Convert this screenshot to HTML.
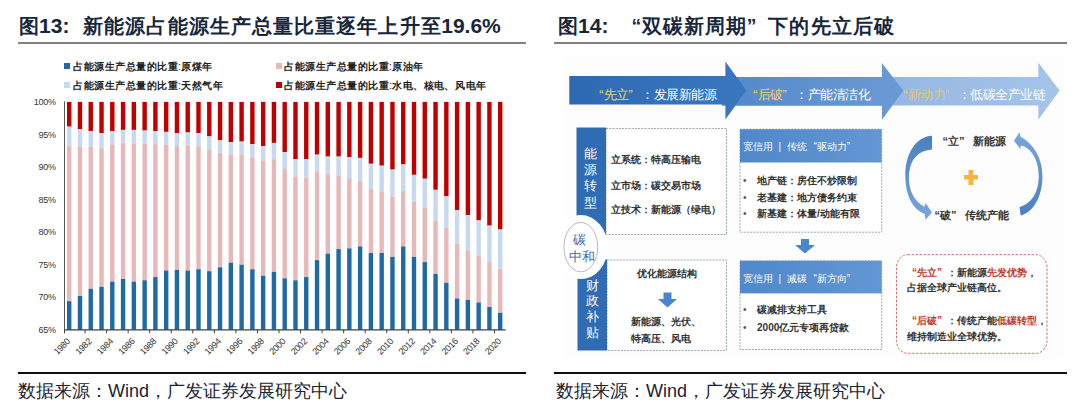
<!DOCTYPE html>
<html><head><meta charset="utf-8">
<style>
*{margin:0;padding:0;box-sizing:border-box}
html,body{width:1080px;height:414px;overflow:hidden;background:#fff}
body{position:relative;font-family:"Liberation Sans",sans-serif;color:#222}
.abs{position:absolute;white-space:nowrap}
.title{font-size:21px;color:#17263b;top:14px;line-height:24px}
.title b{font-weight:bold}
.title i{font-size:19.5px;width:21.1px;font-weight:bold;vertical-align:0px}
.hr{position:absolute;height:2px;background:#808080}
.br{position:absolute;height:2px;background:#111}
.src{font-size:18px;top:380px;line-height:22px;color:#1a2332;font-weight:300}
.leg{font-size:10.5px;line-height:12px;color:#222}
.sq{position:absolute;width:5.5px;height:5.5px}
.leg i{font-weight:bold;font-size:10px;width:10.5px}
svg text.yl{font-family:"Liberation Sans",sans-serif;font-size:9px;fill:#333;letter-spacing:-0.3px}
svg text.xl{font-family:"Liberation Sans",sans-serif;font-size:9px;fill:#333;letter-spacing:-0.3px}
i{font-style:normal;display:inline-block;width:1em;text-align:center}
i.ql{text-align:right}i.qr{text-align:left}
.dt{color:#333;font-weight:bold}
</style></head><body>
<div class="abs title" style="left:18px"><i>图</i><b>13:</b>&nbsp;&nbsp;<span style="margin-left:1.5px"></span><i>新</i><i>能</i><i>源</i><i>占</i><i>能</i><i>源</i><i>生</i><i>产</i><i>总</i><i>量</i><i>比</i><i>重</i><i>逐</i><i>年</i><i>上</i><i>升</i><i>至</i><b>19.6%</b></div>
<div class="hr" style="left:18px;top:42px;width:508px"></div>
<div class="abs title" style="left:557px"><i>图</i><b>14:</b>&nbsp;&nbsp;<i class=ql>“</i><i>双</i><i>碳</i><i>新</i><i>周</i><i>期</i><i class=qr>”</i><i>下</i><i>的</i><i>先</i><i>立</i><i>后</i><i>破</i></div>
<div class="hr" style="left:554px;top:42px;width:513px"></div>

<div class="sq" style="left:64px;top:63px;background:#1F6AA5"></div>
<div class="abs leg" style="left:73px;top:60px"><i>占</i><i>能</i><i>源</i><i>生</i><i>产</i><i>总</i><i>量</i><i>的</i><i>比</i><i>重</i>:<i>原</i><i>煤</i><i>年</i></div>
<div class="sq" style="left:64px;top:82px;background:#C6D9F1"></div>
<div class="abs leg" style="left:73px;top:79px"><i>占</i><i>能</i><i>源</i><i>生</i><i>产</i><i>总</i><i>量</i><i>的</i><i>比</i><i>重</i>:<i>天</i><i>然</i><i>气</i><i>年</i></div>
<div class="sq" style="left:276px;top:63px;background:#E6B9B8"></div>
<div class="abs leg" style="left:284px;top:60px"><i>占</i><i>能</i><i>源</i><i>生</i><i>产</i><i>总</i><i>量</i><i>的</i><i>比</i><i>重</i>:<i>原</i><i>油</i><i>年</i></div>
<div class="sq" style="left:276px;top:82px;background:#C00000"></div>
<div class="abs leg" style="left:284px;top:79px"><i>占</i><i>能</i><i>源</i><i>生</i><i>产</i><i>总</i><i>量</i><i>的</i><i>比</i><i>重</i>:<i>水</i><i>电</i><i class=qr>、</i><i>核</i><i>电</i><i class=qr>、</i><i>风</i><i>电</i><i>年</i></div>

<svg class="abs" style="left:0;top:0" width="540" height="370" viewBox="0 0 540 370">
<rect x="67.00" y="101.90" width="4.4" height="24.74" fill="#C00000"/>
<rect x="67.00" y="126.64" width="4.4" height="19.53" fill="#C6D9F1"/>
<rect x="67.00" y="146.18" width="4.4" height="154.97" fill="#E6B9B8"/>
<rect x="67.00" y="301.15" width="4.4" height="28.65" fill="#1F6AA5"/>
<rect x="77.78" y="101.90" width="4.4" height="27.35" fill="#C00000"/>
<rect x="77.78" y="129.25" width="4.4" height="17.58" fill="#C6D9F1"/>
<rect x="77.78" y="146.83" width="4.4" height="149.11" fill="#E6B9B8"/>
<rect x="77.78" y="295.94" width="4.4" height="33.86" fill="#1F6AA5"/>
<rect x="88.55" y="101.90" width="4.4" height="29.30" fill="#C00000"/>
<rect x="88.55" y="131.20" width="4.4" height="15.63" fill="#C6D9F1"/>
<rect x="88.55" y="146.83" width="4.4" height="141.95" fill="#E6B9B8"/>
<rect x="88.55" y="288.78" width="4.4" height="41.02" fill="#1F6AA5"/>
<rect x="99.33" y="101.90" width="4.4" height="31.25" fill="#C00000"/>
<rect x="99.33" y="133.15" width="4.4" height="14.98" fill="#C6D9F1"/>
<rect x="99.33" y="148.13" width="4.4" height="138.69" fill="#E6B9B8"/>
<rect x="99.33" y="286.82" width="4.4" height="42.98" fill="#1F6AA5"/>
<rect x="110.10" y="101.90" width="4.4" height="29.30" fill="#C00000"/>
<rect x="110.10" y="131.20" width="4.4" height="13.67" fill="#C6D9F1"/>
<rect x="110.10" y="144.88" width="4.4" height="136.74" fill="#E6B9B8"/>
<rect x="110.10" y="281.62" width="4.4" height="48.18" fill="#1F6AA5"/>
<rect x="120.88" y="101.90" width="4.4" height="28.00" fill="#C00000"/>
<rect x="120.88" y="129.90" width="4.4" height="13.02" fill="#C6D9F1"/>
<rect x="120.88" y="142.92" width="4.4" height="136.09" fill="#E6B9B8"/>
<rect x="120.88" y="279.01" width="4.4" height="50.79" fill="#1F6AA5"/>
<rect x="131.65" y="101.90" width="4.4" height="28.00" fill="#C00000"/>
<rect x="131.65" y="129.90" width="4.4" height="13.67" fill="#C6D9F1"/>
<rect x="131.65" y="143.57" width="4.4" height="138.04" fill="#E6B9B8"/>
<rect x="131.65" y="281.62" width="4.4" height="48.18" fill="#1F6AA5"/>
<rect x="142.43" y="101.90" width="4.4" height="28.65" fill="#C00000"/>
<rect x="142.43" y="130.55" width="4.4" height="13.02" fill="#C6D9F1"/>
<rect x="142.43" y="143.57" width="4.4" height="136.74" fill="#E6B9B8"/>
<rect x="142.43" y="280.31" width="4.4" height="49.49" fill="#1F6AA5"/>
<rect x="153.20" y="101.90" width="4.4" height="29.30" fill="#C00000"/>
<rect x="153.20" y="131.20" width="4.4" height="13.02" fill="#C6D9F1"/>
<rect x="153.20" y="144.22" width="4.4" height="132.83" fill="#E6B9B8"/>
<rect x="153.20" y="277.06" width="4.4" height="52.74" fill="#1F6AA5"/>
<rect x="163.98" y="101.90" width="4.4" height="29.95" fill="#C00000"/>
<rect x="163.98" y="131.85" width="4.4" height="13.02" fill="#C6D9F1"/>
<rect x="163.98" y="144.88" width="4.4" height="125.67" fill="#E6B9B8"/>
<rect x="163.98" y="270.55" width="4.4" height="59.25" fill="#1F6AA5"/>
<rect x="174.75" y="101.90" width="4.4" height="31.25" fill="#C00000"/>
<rect x="174.75" y="133.15" width="4.4" height="13.02" fill="#C6D9F1"/>
<rect x="174.75" y="146.18" width="4.4" height="123.72" fill="#E6B9B8"/>
<rect x="174.75" y="269.89" width="4.4" height="59.91" fill="#1F6AA5"/>
<rect x="185.53" y="101.90" width="4.4" height="30.60" fill="#C00000"/>
<rect x="185.53" y="132.50" width="4.4" height="13.02" fill="#C6D9F1"/>
<rect x="185.53" y="145.53" width="4.4" height="125.02" fill="#E6B9B8"/>
<rect x="185.53" y="270.55" width="4.4" height="59.25" fill="#1F6AA5"/>
<rect x="196.30" y="101.90" width="4.4" height="31.25" fill="#C00000"/>
<rect x="196.30" y="133.15" width="4.4" height="13.02" fill="#C6D9F1"/>
<rect x="196.30" y="146.18" width="4.4" height="123.07" fill="#E6B9B8"/>
<rect x="196.30" y="269.24" width="4.4" height="60.56" fill="#1F6AA5"/>
<rect x="207.08" y="101.90" width="4.4" height="34.51" fill="#C00000"/>
<rect x="207.08" y="136.41" width="4.4" height="13.02" fill="#C6D9F1"/>
<rect x="207.08" y="149.43" width="4.4" height="121.76" fill="#E6B9B8"/>
<rect x="207.08" y="271.20" width="4.4" height="58.60" fill="#1F6AA5"/>
<rect x="217.85" y="101.90" width="4.4" height="38.42" fill="#C00000"/>
<rect x="217.85" y="140.32" width="4.4" height="12.37" fill="#C6D9F1"/>
<rect x="217.85" y="152.69" width="4.4" height="114.60" fill="#E6B9B8"/>
<rect x="217.85" y="267.29" width="4.4" height="62.51" fill="#1F6AA5"/>
<rect x="228.62" y="101.90" width="4.4" height="40.37" fill="#C00000"/>
<rect x="228.62" y="142.27" width="4.4" height="12.37" fill="#C6D9F1"/>
<rect x="228.62" y="154.64" width="4.4" height="108.09" fill="#E6B9B8"/>
<rect x="228.62" y="262.73" width="4.4" height="67.07" fill="#1F6AA5"/>
<rect x="239.40" y="101.90" width="4.4" height="39.72" fill="#C00000"/>
<rect x="239.40" y="141.62" width="4.4" height="13.02" fill="#C6D9F1"/>
<rect x="239.40" y="154.64" width="4.4" height="110.04" fill="#E6B9B8"/>
<rect x="239.40" y="264.69" width="4.4" height="65.11" fill="#1F6AA5"/>
<rect x="250.18" y="101.90" width="4.4" height="42.32" fill="#C00000"/>
<rect x="250.18" y="144.22" width="4.4" height="13.67" fill="#C6D9F1"/>
<rect x="250.18" y="157.90" width="4.4" height="111.35" fill="#E6B9B8"/>
<rect x="250.18" y="269.24" width="4.4" height="60.56" fill="#1F6AA5"/>
<rect x="260.95" y="101.90" width="4.4" height="44.28" fill="#C00000"/>
<rect x="260.95" y="146.18" width="4.4" height="14.33" fill="#C6D9F1"/>
<rect x="260.95" y="160.50" width="4.4" height="115.25" fill="#E6B9B8"/>
<rect x="260.95" y="275.76" width="4.4" height="54.04" fill="#1F6AA5"/>
<rect x="271.73" y="101.90" width="4.4" height="41.02" fill="#C00000"/>
<rect x="271.73" y="142.92" width="4.4" height="16.28" fill="#C6D9F1"/>
<rect x="271.73" y="159.20" width="4.4" height="112.65" fill="#E6B9B8"/>
<rect x="271.73" y="271.85" width="4.4" height="57.95" fill="#1F6AA5"/>
<rect x="282.50" y="101.90" width="4.4" height="50.14" fill="#C00000"/>
<rect x="282.50" y="152.04" width="4.4" height="16.93" fill="#C6D9F1"/>
<rect x="282.50" y="168.97" width="4.4" height="109.39" fill="#E6B9B8"/>
<rect x="282.50" y="278.36" width="4.4" height="51.44" fill="#1F6AA5"/>
<rect x="293.28" y="101.90" width="4.4" height="57.30" fill="#C00000"/>
<rect x="293.28" y="159.20" width="4.4" height="17.58" fill="#C6D9F1"/>
<rect x="293.28" y="176.78" width="4.4" height="103.53" fill="#E6B9B8"/>
<rect x="293.28" y="280.31" width="4.4" height="49.49" fill="#1F6AA5"/>
<rect x="304.05" y="101.90" width="4.4" height="57.30" fill="#C00000"/>
<rect x="304.05" y="159.20" width="4.4" height="18.23" fill="#C6D9F1"/>
<rect x="304.05" y="177.43" width="4.4" height="99.62" fill="#E6B9B8"/>
<rect x="304.05" y="277.06" width="4.4" height="52.74" fill="#1F6AA5"/>
<rect x="314.83" y="101.90" width="4.4" height="52.74" fill="#C00000"/>
<rect x="314.83" y="154.64" width="4.4" height="16.93" fill="#C6D9F1"/>
<rect x="314.83" y="171.57" width="4.4" height="88.56" fill="#E6B9B8"/>
<rect x="314.83" y="260.13" width="4.4" height="69.67" fill="#1F6AA5"/>
<rect x="325.60" y="101.90" width="4.4" height="54.70" fill="#C00000"/>
<rect x="325.60" y="156.60" width="4.4" height="17.58" fill="#C6D9F1"/>
<rect x="325.60" y="174.18" width="4.4" height="79.44" fill="#E6B9B8"/>
<rect x="325.60" y="253.62" width="4.4" height="76.18" fill="#1F6AA5"/>
<rect x="336.38" y="101.90" width="4.4" height="54.70" fill="#C00000"/>
<rect x="336.38" y="156.60" width="4.4" height="18.88" fill="#C6D9F1"/>
<rect x="336.38" y="175.48" width="4.4" height="73.58" fill="#E6B9B8"/>
<rect x="336.38" y="249.06" width="4.4" height="80.74" fill="#1F6AA5"/>
<rect x="347.15" y="101.90" width="4.4" height="55.35" fill="#C00000"/>
<rect x="347.15" y="157.25" width="4.4" height="20.84" fill="#C6D9F1"/>
<rect x="347.15" y="178.08" width="4.4" height="70.32" fill="#E6B9B8"/>
<rect x="347.15" y="248.41" width="4.4" height="81.39" fill="#1F6AA5"/>
<rect x="357.93" y="101.90" width="4.4" height="56.00" fill="#C00000"/>
<rect x="357.93" y="157.90" width="4.4" height="22.79" fill="#C6D9F1"/>
<rect x="357.93" y="180.69" width="4.4" height="65.77" fill="#E6B9B8"/>
<rect x="357.93" y="246.45" width="4.4" height="83.35" fill="#1F6AA5"/>
<rect x="368.70" y="101.90" width="4.4" height="61.86" fill="#C00000"/>
<rect x="368.70" y="163.76" width="4.4" height="25.39" fill="#C6D9F1"/>
<rect x="368.70" y="189.15" width="4.4" height="63.81" fill="#E6B9B8"/>
<rect x="368.70" y="252.97" width="4.4" height="76.83" fill="#1F6AA5"/>
<rect x="379.48" y="101.90" width="4.4" height="63.81" fill="#C00000"/>
<rect x="379.48" y="165.71" width="4.4" height="26.05" fill="#C6D9F1"/>
<rect x="379.48" y="191.76" width="4.4" height="61.21" fill="#E6B9B8"/>
<rect x="379.48" y="252.97" width="4.4" height="76.83" fill="#1F6AA5"/>
<rect x="390.25" y="101.90" width="4.4" height="67.72" fill="#C00000"/>
<rect x="390.25" y="169.62" width="4.4" height="26.70" fill="#C6D9F1"/>
<rect x="390.25" y="196.32" width="4.4" height="60.56" fill="#E6B9B8"/>
<rect x="390.25" y="256.87" width="4.4" height="72.93" fill="#1F6AA5"/>
<rect x="401.03" y="101.90" width="4.4" height="62.51" fill="#C00000"/>
<rect x="401.03" y="164.41" width="4.4" height="26.70" fill="#C6D9F1"/>
<rect x="401.03" y="191.11" width="4.4" height="55.35" fill="#E6B9B8"/>
<rect x="401.03" y="246.45" width="4.4" height="83.35" fill="#1F6AA5"/>
<rect x="411.80" y="101.90" width="4.4" height="72.93" fill="#C00000"/>
<rect x="411.80" y="174.83" width="4.4" height="26.70" fill="#C6D9F1"/>
<rect x="411.80" y="201.52" width="4.4" height="55.35" fill="#E6B9B8"/>
<rect x="411.80" y="256.87" width="4.4" height="72.93" fill="#1F6AA5"/>
<rect x="422.57" y="101.90" width="4.4" height="76.83" fill="#C00000"/>
<rect x="422.57" y="178.73" width="4.4" height="28.65" fill="#C6D9F1"/>
<rect x="422.57" y="207.39" width="4.4" height="54.70" fill="#E6B9B8"/>
<rect x="422.57" y="262.08" width="4.4" height="67.72" fill="#1F6AA5"/>
<rect x="433.35" y="101.90" width="4.4" height="87.90" fill="#C00000"/>
<rect x="433.35" y="189.80" width="4.4" height="30.60" fill="#C6D9F1"/>
<rect x="433.35" y="220.41" width="4.4" height="53.39" fill="#E6B9B8"/>
<rect x="433.35" y="273.80" width="4.4" height="56.00" fill="#1F6AA5"/>
<rect x="444.12" y="101.90" width="4.4" height="94.42" fill="#C00000"/>
<rect x="444.12" y="196.32" width="4.4" height="31.25" fill="#C6D9F1"/>
<rect x="444.12" y="227.57" width="4.4" height="55.35" fill="#E6B9B8"/>
<rect x="444.12" y="282.92" width="4.4" height="46.88" fill="#1F6AA5"/>
<rect x="454.90" y="101.90" width="4.4" height="108.09" fill="#C00000"/>
<rect x="454.90" y="209.99" width="4.4" height="33.86" fill="#C6D9F1"/>
<rect x="454.90" y="243.85" width="4.4" height="54.70" fill="#E6B9B8"/>
<rect x="454.90" y="298.55" width="4.4" height="31.25" fill="#1F6AA5"/>
<rect x="465.68" y="101.90" width="4.4" height="113.30" fill="#C00000"/>
<rect x="465.68" y="215.20" width="4.4" height="35.16" fill="#C6D9F1"/>
<rect x="465.68" y="250.36" width="4.4" height="49.49" fill="#E6B9B8"/>
<rect x="465.68" y="299.85" width="4.4" height="29.95" fill="#1F6AA5"/>
<rect x="476.45" y="101.90" width="4.4" height="118.51" fill="#C00000"/>
<rect x="476.45" y="220.41" width="4.4" height="35.16" fill="#C6D9F1"/>
<rect x="476.45" y="255.57" width="4.4" height="46.88" fill="#E6B9B8"/>
<rect x="476.45" y="302.45" width="4.4" height="27.35" fill="#1F6AA5"/>
<rect x="487.23" y="101.90" width="4.4" height="123.72" fill="#C00000"/>
<rect x="487.23" y="225.62" width="4.4" height="36.46" fill="#C6D9F1"/>
<rect x="487.23" y="262.08" width="4.4" height="44.93" fill="#E6B9B8"/>
<rect x="487.23" y="307.01" width="4.4" height="22.79" fill="#1F6AA5"/>
<rect x="498.00" y="101.90" width="4.4" height="127.62" fill="#C00000"/>
<rect x="498.00" y="229.52" width="4.4" height="39.07" fill="#C6D9F1"/>
<rect x="498.00" y="268.59" width="4.4" height="44.28" fill="#E6B9B8"/>
<rect x="498.00" y="312.87" width="4.4" height="16.93" fill="#1F6AA5"/>
<text x="55.7" y="105.10" text-anchor="end" class="yl">100%</text>
<text x="55.7" y="137.66" text-anchor="end" class="yl">95%</text>
<text x="55.7" y="170.21" text-anchor="end" class="yl">90%</text>
<text x="55.7" y="202.77" text-anchor="end" class="yl">85%</text>
<text x="55.7" y="235.33" text-anchor="end" class="yl">80%</text>
<text x="55.7" y="267.89" text-anchor="end" class="yl">75%</text>
<text x="55.7" y="300.44" text-anchor="end" class="yl">70%</text>
<text x="55.7" y="333.00" text-anchor="end" class="yl">65%</text>
<line x1="64.5" y1="101.4" x2="64.5" y2="332.8" stroke="#595959" stroke-width="1"/>
<line x1="64.5" y1="329.8" x2="505.7" y2="329.8" stroke="#404040" stroke-width="1.2"/>
<line x1="64.50" y1="329.8" x2="64.50" y2="333.3" stroke="#404040" stroke-width="1"/>
<line x1="85.05" y1="329.8" x2="85.05" y2="333.3" stroke="#404040" stroke-width="1"/>
<line x1="106.60" y1="329.8" x2="106.60" y2="333.3" stroke="#404040" stroke-width="1"/>
<line x1="128.15" y1="329.8" x2="128.15" y2="333.3" stroke="#404040" stroke-width="1"/>
<line x1="149.70" y1="329.8" x2="149.70" y2="333.3" stroke="#404040" stroke-width="1"/>
<line x1="171.25" y1="329.8" x2="171.25" y2="333.3" stroke="#404040" stroke-width="1"/>
<line x1="192.80" y1="329.8" x2="192.80" y2="333.3" stroke="#404040" stroke-width="1"/>
<line x1="214.35" y1="329.8" x2="214.35" y2="333.3" stroke="#404040" stroke-width="1"/>
<line x1="235.90" y1="329.8" x2="235.90" y2="333.3" stroke="#404040" stroke-width="1"/>
<line x1="257.45" y1="329.8" x2="257.45" y2="333.3" stroke="#404040" stroke-width="1"/>
<line x1="279.00" y1="329.8" x2="279.00" y2="333.3" stroke="#404040" stroke-width="1"/>
<line x1="300.55" y1="329.8" x2="300.55" y2="333.3" stroke="#404040" stroke-width="1"/>
<line x1="322.10" y1="329.8" x2="322.10" y2="333.3" stroke="#404040" stroke-width="1"/>
<line x1="343.65" y1="329.8" x2="343.65" y2="333.3" stroke="#404040" stroke-width="1"/>
<line x1="365.20" y1="329.8" x2="365.20" y2="333.3" stroke="#404040" stroke-width="1"/>
<line x1="386.75" y1="329.8" x2="386.75" y2="333.3" stroke="#404040" stroke-width="1"/>
<line x1="408.30" y1="329.8" x2="408.30" y2="333.3" stroke="#404040" stroke-width="1"/>
<line x1="429.85" y1="329.8" x2="429.85" y2="333.3" stroke="#404040" stroke-width="1"/>
<line x1="451.40" y1="329.8" x2="451.40" y2="333.3" stroke="#404040" stroke-width="1"/>
<line x1="472.95" y1="329.8" x2="472.95" y2="333.3" stroke="#404040" stroke-width="1"/>
<line x1="494.50" y1="329.8" x2="494.50" y2="333.3" stroke="#404040" stroke-width="1"/>
<text transform="translate(70.70,342) rotate(-45)" text-anchor="end" class="xl">1980</text>
<text transform="translate(92.25,342) rotate(-45)" text-anchor="end" class="xl">1982</text>
<text transform="translate(113.80,342) rotate(-45)" text-anchor="end" class="xl">1984</text>
<text transform="translate(135.35,342) rotate(-45)" text-anchor="end" class="xl">1986</text>
<text transform="translate(156.90,342) rotate(-45)" text-anchor="end" class="xl">1988</text>
<text transform="translate(178.45,342) rotate(-45)" text-anchor="end" class="xl">1990</text>
<text transform="translate(200.00,342) rotate(-45)" text-anchor="end" class="xl">1992</text>
<text transform="translate(221.55,342) rotate(-45)" text-anchor="end" class="xl">1994</text>
<text transform="translate(243.10,342) rotate(-45)" text-anchor="end" class="xl">1996</text>
<text transform="translate(264.65,342) rotate(-45)" text-anchor="end" class="xl">1998</text>
<text transform="translate(286.20,342) rotate(-45)" text-anchor="end" class="xl">2000</text>
<text transform="translate(307.75,342) rotate(-45)" text-anchor="end" class="xl">2002</text>
<text transform="translate(329.30,342) rotate(-45)" text-anchor="end" class="xl">2004</text>
<text transform="translate(350.85,342) rotate(-45)" text-anchor="end" class="xl">2006</text>
<text transform="translate(372.40,342) rotate(-45)" text-anchor="end" class="xl">2008</text>
<text transform="translate(393.95,342) rotate(-45)" text-anchor="end" class="xl">2010</text>
<text transform="translate(415.50,342) rotate(-45)" text-anchor="end" class="xl">2012</text>
<text transform="translate(437.05,342) rotate(-45)" text-anchor="end" class="xl">2014</text>
<text transform="translate(458.60,342) rotate(-45)" text-anchor="end" class="xl">2016</text>
<text transform="translate(480.15,342) rotate(-45)" text-anchor="end" class="xl">2018</text>
<text transform="translate(501.70,342) rotate(-45)" text-anchor="end" class="xl">2020</text>
</svg>
<div class="abs" style="left:564px;top:56px;width:500px;height:303px;background:#fdfdfd"></div>
<svg class="abs" style="left:0;top:0" width="1080" height="414" viewBox="0 0 1080 414">
<defs>
<linearGradient id="g1" x1="0" x2="1" y1="0" y2="0"><stop offset="0" stop-color="#2d6ab3"/><stop offset="1" stop-color="#3a77be"/></linearGradient>
<linearGradient id="g2" x1="0" x2="1" y1="0" y2="0"><stop offset="0" stop-color="#5389c9"/><stop offset="1" stop-color="#6a9ad4"/></linearGradient>
<linearGradient id="g3" x1="0" x2="1" y1="0" y2="0"><stop offset="0" stop-color="#93b6e2"/><stop offset="1" stop-color="#a6c4ea"/></linearGradient>
<linearGradient id="gh" x1="0" x2="1" y1="0" y2="0"><stop offset="0" stop-color="#5088cb"/><stop offset="1" stop-color="#6396d3"/></linearGradient>
<linearGradient id="gc2" x1="0" x2="0" y1="1" y2="0"><stop offset="0" stop-color="#4a7fc0"/><stop offset="1" stop-color="#7aa6db"/></linearGradient>
<linearGradient id="gc" x1="0" x2="0" y1="0" y2="1"><stop offset="0" stop-color="#4a7fc0"/><stop offset="1" stop-color="#7aa6db"/></linearGradient>
</defs>
<!-- arrow 3 -->
<path d="M880 77 L1038.3 77 L1038.3 62.4 L1059.6 90.5 L1038.3 119.8 L1038.3 105.4 L880 105.4 Z" fill="url(#g3)"/>
<!-- arrow 2 -->
<path d="M722 77 L882 77 L882 63.3 L903.3 90.5 L882 119.8 L882 105.8 L722 105.8 Z" fill="url(#g2)"/>
<!-- arrow 1 -->
<path d="M569.3 75.9 L725.4 75.9 L725.4 61.4 L746.4 90.4 L725.4 119.6 L725.4 104.6 L569.3 104.6 Z" fill="url(#g1)"/>

<!-- column 1 boxes -->
<rect x="606" y="128.5" width="120.5" height="106" fill="#fff" stroke="#9aa7b8" stroke-width="1" stroke-dasharray="2 1.2"/>
<rect x="576.5" y="127.5" width="29.5" height="107" fill="#2f6cb3"/>
<rect x="607" y="260" width="119.5" height="90.5" fill="#fff" stroke="#9aa7b8" stroke-width="1" stroke-dasharray="2 1.2"/>
<rect x="577.5" y="259.3" width="29.5" height="91.2" fill="#2f6cb3"/>
<ellipse cx="580.8" cy="247.1" rx="27" ry="32" fill="#fff"/>
<ellipse cx="580.8" cy="247.1" rx="16.9" ry="24.7" fill="#fff" stroke="#b8b8c0" stroke-width="1"/>
<!-- down arrow in lower box -->
<path d="M663.5 292.5 L671.5 292.5 L671.5 299 L677 299 L667.5 307.5 L658 299 L663.5 299 Z" fill="#4a86cc"/>

<!-- column 2 -->
<rect x="740" y="129.2" width="141.7" height="103" fill="#fff" stroke="#9aa7b8" stroke-width="1" stroke-dasharray="2 1.2"/>
<rect x="740" y="129.2" width="141.7" height="33.3" fill="url(#gh)"/>
<path d="M801 239 L809 239 L809 245 L815 245 L805 253.5 L795 245 L801 245 Z" fill="#4a86cc"/>
<rect x="740" y="260.8" width="141.7" height="88.7" fill="#fff" stroke="#9aa7b8" stroke-width="1" stroke-dasharray="2 1.2"/>
<rect x="740" y="260.8" width="141.7" height="32.6" fill="url(#gh)"/>

<!-- column 3 curved arrows -->
<path d="M932 135.7 C916 136.5 905 154 905.3 176 C905.5 195 912 209 924.6 214 L925.6 219.8 L931.9 212.5 L925.6 202.9 L924.6 206.7 C915 202 909.5 192 909 180 C908.5 162 916 151 932 149.5 Z" fill="url(#gc)"/>
<path d="M1020.7 215.6 C1034 212 1042.5 196 1042.4 176 C1042.3 158 1034 144 1020.6 136.7 L1019.7 132.3 L1013.9 140.6 L1020.6 149.3 L1020.6 145.4 C1031 147 1038.8 160 1038.8 176 C1038.8 193 1031 204 1019.5 207 Z" fill="url(#gc2)"/>
<path d="M968.5 170 L973.5 170 L973.5 175 L978 175 L978 179.5 L973.5 179.5 L973.5 185 L968.5 185 L968.5 179.5 L964 179.5 L964 175 L968.5 175 Z" fill="#f3b73f"/>
<rect x="896.5" y="254.7" width="150.5" height="98.6" rx="11" ry="13" fill="#fff" stroke="#d07070" stroke-width="1" stroke-dasharray="2.5 1.5"/>
</svg>

<div class="abs dt" style="left:591px;top:86.5px;font-size:12.5px;color:#fff;font-weight:500"><span style="color:#eed26a"><i class=ql>“</i><i>先</i><i>立</i><i class=qr>”</i></span><i class=qr>：</i><i>发</i><i>展</i><i>新</i><i>能</i><i>源</i></div>
<div class="abs dt" style="left:745px;top:86.5px;font-size:12.5px;color:#fff;font-weight:500"><span style="color:#eed26a"><i class=ql>“</i><i>后</i><i>破</i><i class=qr>”</i></span><i class=qr>：</i><i>产</i><i>能</i><i>清</i><i>洁</i><i>化</i></div>
<div class="abs dt" style="left:895px;top:86.5px;font-size:12.5px;color:#fff;font-weight:500"><span style="color:#e8c85a"><i class=ql>“</i><i>新</i><i>动</i><i>力</i><i class=qr>”</i></span><i class=qr>：</i><i>低</i><i>碳</i><i>全</i><i>产</i><i>业</i><i>链</i></div>

<div class="abs vt" style="left:583.5px;top:146px;font-size:12.5px;line-height:16.2px;color:#fff;white-space:normal;width:13px;font-weight:500"><i>能</i><i>源</i><i>转</i><i>型</i></div>
<div class="abs vt" style="left:586px;top:277.5px;font-size:13px;line-height:15.7px;color:#fff;white-space:normal;width:13px;font-weight:500"><i>财</i><i>政</i><i>补</i><i>贴</i></div>
<div class="abs dt" style="left:573px;top:232px;font-size:13px;line-height:15px;color:#3a6aa8;font-weight:normal"><i>碳</i></div>
<div class="abs dt" style="left:568.5px;top:250px;font-size:12.5px;line-height:15px;color:#3a6aa8;font-weight:normal;letter-spacing:-1.5px"><i>中</i><i>和</i></div>

<div class="abs dt" style="left:611px;top:154px;font-size:10px;line-height:12px"><i>立</i><i>系</i><i>统</i><i class=qr>：</i><i>特</i><i>高</i><i>压</i><i>输</i><i>电</i></div>
<div class="abs dt" style="left:611px;top:180px;font-size:10px;line-height:12px"><i>立</i><i>市</i><i>场</i><i class=qr>：</i><i>碳</i><i>交</i><i>易</i><i>市</i><i>场</i></div>
<div class="abs dt" style="left:611px;top:204px;font-size:10px;line-height:12px"><i>立</i><i>技</i><i>术</i><i class=qr>：</i><i>新</i><i>能</i><i>源</i><i>（</i><i>绿</i><i>电</i><i>）</i></div>

<div class="abs dt" style="left:637px;top:268px;font-size:10px;line-height:12px"><i>优</i><i>化</i><i>能</i><i>源</i><i>结</i><i>构</i></div>
<div class="abs dt" style="left:631px;top:316px;font-size:10px;line-height:12px"><i>新</i><i>能</i><i>源</i><i class=qr>、</i><i>光</i><i>伏</i><i class=qr>、</i></div>
<div class="abs dt" style="left:631px;top:333px;font-size:10px;line-height:12px"><i>特</i><i>高</i><i>压</i><i class=qr>、</i><i>风</i><i>电</i></div>

<div class="abs dt" style="left:743px;top:141px;font-size:10px;line-height:12px;color:#fff;font-weight:normal"><i>宽</i><i>信</i><i>用</i>&nbsp;&nbsp;|&nbsp;&nbsp;<i>传</i><i>统</i><i class=ql>“</i><i>驱</i><i>动</i><i>力</i><i class=qr>”</i></div>
<div class="abs dt" style="left:743px;top:174.5px;font-size:10px;line-height:12px"><span style="color:#555;font-weight:normal">•</span><span style="display:inline-block;width:10.5px"></span><i>地</i><i>产</i><i>链</i><i class=qr>：</i><i>房</i><i>住</i><i>不</i><i>炒</i><i>限</i><i>制</i></div>
<div class="abs dt" style="left:743px;top:191.5px;font-size:10px;line-height:12px"><span style="color:#555;font-weight:normal">•</span><span style="display:inline-block;width:10.5px"></span><i>老</i><i>基</i><i>建</i><i class=qr>：</i><i>地</i><i>方</i><i>债</i><i>务</i><i>约</i><i>束</i></div>
<div class="abs dt" style="left:743px;top:207.5px;font-size:10px;line-height:12px"><span style="color:#555;font-weight:normal">•</span><span style="display:inline-block;width:10.5px"></span><i>新</i><i>基</i><i>建</i><i class=qr>：</i><i>体</i><i>量</i>/<i>动</i><i>能</i><i>有</i><i>限</i></div>

<div class="abs dt" style="left:743px;top:273px;font-size:10px;line-height:12px;color:#fff;font-weight:normal"><i>宽</i><i>信</i><i>用</i>&nbsp;&nbsp;|&nbsp;&nbsp;<i>减</i><i>碳</i><i class=ql>“</i><i>新</i><i>方</i><i>向</i><i class=qr>”</i></div>
<div class="abs dt" style="left:743px;top:304px;font-size:10px;line-height:12px"><span style="color:#555;font-weight:normal">•</span><span style="display:inline-block;width:10.5px"></span><i>碳</i><i>减</i><i>排</i><i>支</i><i>持</i><i>工</i><i>具</i></div>
<div class="abs dt" style="left:743px;top:322px;font-size:10px;line-height:12px"><span style="color:#555;font-weight:normal">•</span><span style="display:inline-block;width:10.5px"></span>2000<i>亿</i><i>元</i><i>专</i><i>项</i><i>再</i><i>贷</i><i>款</i></div>

<div class="abs dt" style="left:937px;top:135px;font-size:11px;font-weight:bold;line-height:13px"><i class=ql>“</i><i>立</i><i class=qr>”</i>&nbsp;<i>新</i><i>能</i><i>源</i></div>
<div class="abs dt" style="left:929px;top:209px;font-size:11px;font-weight:bold;line-height:13px"><i class=ql>“</i><i>破</i><i class=qr>”</i>&nbsp;<i>传</i><i>统</i><i>产</i><i>能</i></div>

<div class="abs dt" style="left:907px;top:267px;font-size:10px;line-height:12px"><span style="color:#c0392b"><i class=ql>“</i><i>先</i><i>立</i><i class=qr>”</i></span><i class=qr>：</i><i>新</i><i>能</i><i>源</i><span style="color:#c0392b"><i>先</i><i>发</i><i>优</i><i>势</i></span><i class=qr>，</i></div>
<div class="abs dt" style="left:907px;top:282px;font-size:10px;line-height:12px"><i>占</i><i>据</i><i>全</i><i>球</i><i>产</i><i>业</i><i>链</i><i>高</i><i>位</i><i class=qr>。</i></div>
<div class="abs dt" style="left:907px;top:315px;font-size:10px;line-height:12px"><span style="color:#c0392b"><i class=ql>“</i><i>后</i><i>破</i><i class=qr>”</i></span><i class=qr>：</i><i>传</i><i>统</i><i>产</i><i>能</i><span style="color:#c0392b"><i>低</i><i>碳</i><i>转</i><i>型</i></span><i class=qr>，</i></div>
<div class="abs dt" style="left:907px;top:331px;font-size:10px;line-height:12px"><i>维</i><i>持</i><i>制</i><i>造</i><i>业</i><i>全</i><i>球</i><i>优</i><i>势</i><i class=qr>。</i></div>


<div class="br" style="left:18px;top:372px;width:508px"></div>
<div class="br" style="left:554px;top:372px;width:513px"></div>
<div class="abs src" style="left:18px"><i>数</i><i>据</i><i>来</i><i>源</i><i class=qr>：</i>Wind<i class=qr>，</i><i>广</i><i>发</i><i>证</i><i>券</i><i>发</i><i>展</i><i>研</i><i>究</i><i>中</i><i>心</i></div>
<div class="abs src" style="left:556px"><i>数</i><i>据</i><i>来</i><i>源</i><i class=qr>：</i>Wind<i class=qr>，</i><i>广</i><i>发</i><i>证</i><i>券</i><i>发</i><i>展</i><i>研</i><i>究</i><i>中</i><i>心</i></div>
</body></html>
